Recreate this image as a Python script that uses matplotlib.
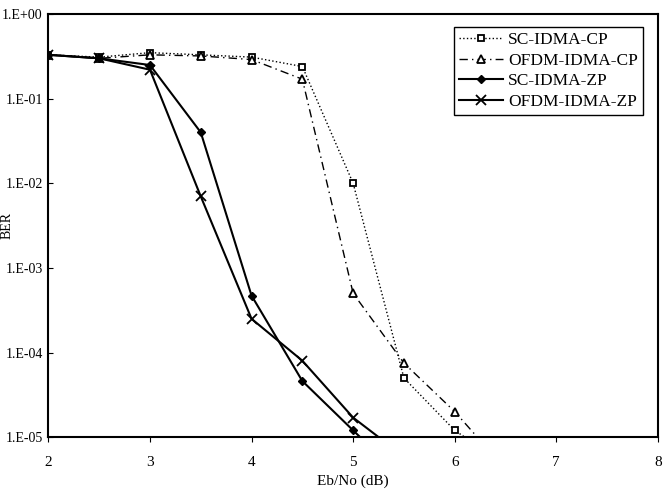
import matplotlib
matplotlib.use("Agg")
import matplotlib.pyplot as plt
from matplotlib.ticker import FixedLocator, FixedFormatter, NullLocator

plt.rcParams['font.family'] = ['Liberation Serif', 'DejaVu Serif']

x_cp = [2, 2.5, 3, 3.5, 4, 4.5, 5, 5.5, 6, 6.5]
sc_cp = [0.33, 0.31, 0.35, 0.33, 0.31, 0.24, 0.01, 5e-5, 1.2e-5, 4.8e-6]
ofdm_cp = [0.33, 0.30, 0.33, 0.32, 0.29, 0.17, 5e-4, 7.5e-5, 2e-5, 4.2e-6]
x_zp = [2, 2.5, 3, 3.5, 4, 4.5, 5, 5.5]
sc_zp = [0.33, 0.30, 0.25, 0.04, 4.7e-4, 4.6e-5, 1.2e-5, 3.2e-6]
ofdm_zp = [0.33, 0.30, 0.22, 0.007, 2.5e-4, 8e-5, 1.7e-5, 5.9e-6]
yticks = [1e-5, 1e-4, 1e-3, 1e-2, 1e-1, 1]
ylabels = ['1.E-05', '1.E-04', '1.E-03', '1.E-02', '1.E-01', '1.E+00']

fig, ax = plt.subplots(figsize=(6.72, 5.03), dpi=100)
fig.subplots_adjust(left=0.072, right=0.979, top=0.972, bottom=0.131)
ax.plot(x_cp, sc_cp, ls=':', color='k', lw=1, marker='s', mfc='white', mec='k', ms=5, mew=1.3, label='SC-IDMA-CP')
ax.plot(x_cp, ofdm_cp, ls=(0, (6, 3, 1, 3)), color='k', lw=1, marker='^', mfc='white', mec='k', ms=6, mew=1.3, label='OFDM-IDMA-CP')
ax.plot(x_zp, sc_zp, ls='-', color='k', lw=1.5, marker='D', mfc='k', mec='k', ms=4.5, label='SC-IDMA-ZP')
ax.plot(x_zp, ofdm_zp, ls='-', color='k', lw=1.5, marker='x', mfc='k', mec='k', ms=7, mew=1.3, label='OFDM-IDMA-ZP')
ax.set_yscale('log')
ax.set_xlim(2, 8)
ax.set_ylim(1e-5, 1)
ax.yaxis.set_major_locator(FixedLocator(yticks))
ax.yaxis.set_major_formatter(FixedFormatter(ylabels))
ax.yaxis.set_minor_locator(NullLocator())
ax.tick_params(labelsize=10, direction='in', pad=4)
ax.tick_params(axis='x', direction='out', pad=10, labelsize=11)
for s in ax.spines.values():
    s.set_linewidth(1.5)
ax.set_xlabel('Eb/No (dB)', fontsize=11)
ax.set_ylabel('BER', fontsize=10)
ax.yaxis.set_label_coords(-0.058, 0.5)
leg = ax.legend(loc='upper right', fontsize=12.5, fancybox=False, edgecolor='k', framealpha=1,
                handlelength=2.5, borderpad=0.3, labelspacing=0.25, handletextpad=0.3,
                bbox_to_anchor=(0.99, 0.99))
leg.get_frame().set_linewidth(1)
fig.savefig('out.png')
